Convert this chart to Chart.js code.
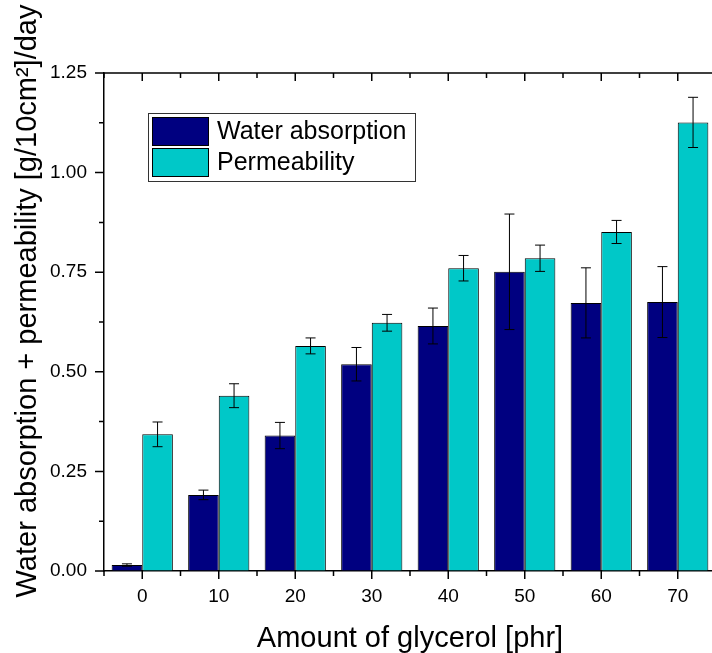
<!DOCTYPE html>
<html>
<head>
<meta charset="utf-8">
<script src="https://cdn.jsdelivr.net/npm/chart.js@4"></script>
<style>
body { margin: 0; overflow: hidden; background: #fff; }
#wrap { position: absolute; left: 0; top: 0; width: 730px; height: 653px; }
</style>
</head>
<body>
<div id="wrap"><canvas id="chart" width="730" height="653"></canvas></div>
<script>
const glycerol = [0, 10, 20, 30, 40, 50, 60, 70];
const waterAbs = [0.015, 0.191, 0.340, 0.519, 0.615, 0.751, 0.673, 0.675];
const waterErr = [0.003, 0.012, 0.033, 0.042, 0.045, 0.145, 0.088, 0.089];
const permeability = [0.343, 0.440, 0.565, 0.623, 0.760, 0.785, 0.851, 1.126];
const permErr = [0.031, 0.030, 0.020, 0.021, 0.032, 0.033, 0.029, 0.063];
const yTicks = [0, 0.25, 0.5, 0.75, 1.0, 1.25];
const seriesNames = ["Water absorption", "Permeability"];
const xTitle = "Amount of glycerol [phr]";
const yTitle = "Water absorption + permeability [g/10cm\u00B2]/day";

const FONT = "Arial, 'Liberation Sans', sans-serif";
const errors = [waterErr, permErr];

// ticks on all sides, error bars, legend box, axis titles
const decor = {
    id: 'decor',
    afterDraw(chart) {
        const ctx = chart.ctx;
        const a = chart.chartArea;
        const x = chart.scales.x, y = chart.scales.y;
        ctx.save();
        ctx.strokeStyle = '#000';
        ctx.lineWidth = 1.5;
        ctx.beginPath();
        ctx.moveTo(a.left, a.top);
        ctx.lineTo(a.right, a.top);
        x.ticks.forEach(t => {
            const px = x.getPixelForValue(t.value);
            const len = t.label !== '' ? 8 : 5;
            ctx.moveTo(px, a.bottom);
            ctx.lineTo(px, a.bottom + len);
            ctx.moveTo(px, a.top);
            ctx.lineTo(px, a.top + len);
        });
        y.ticks.forEach(t => {
            const py = y.getPixelForValue(t.value);
            const len = t.label !== '' ? 9 : 5;
            ctx.moveTo(a.left, py);
            ctx.lineTo(a.left - len, py);
        });
        ctx.stroke();

        // error bars
        ctx.lineWidth = 1;
        ctx.beginPath();
        chart.data.datasets.forEach((ds, di) => {
            const meta = chart.getDatasetMeta(di);
            meta.data.forEach((bar, i) => {
                const v = ds.data[i].y, e = errors[di][i];
                const top = y.getPixelForValue(v + e);
                const bot = y.getPixelForValue(v - e);
                ctx.moveTo(bar.x, top);
                ctx.lineTo(bar.x, bot);
                ctx.moveTo(bar.x - 5, top);
                ctx.lineTo(bar.x + 5, top);
                ctx.moveTo(bar.x - 5, bot);
                ctx.lineTo(bar.x + 5, bot);
            });
        });
        ctx.stroke();

        // legend
        ctx.strokeStyle = '#333';
        ctx.strokeRect(148.5, 113.5, 267, 68);
        ctx.font = '25px ' + FONT;
        ctx.textBaseline = 'middle';
        ctx.textAlign = 'left';
        chart.data.datasets.forEach((ds, di) => {
            const top = 117 + di * 31;
            ctx.fillStyle = ds.backgroundColor;
            ctx.fillRect(152, top, 57, 29);
            ctx.strokeStyle = '#000';
            ctx.strokeRect(152.5, top + 0.5, 56, 28);
            ctx.fillStyle = '#000';
            ctx.fillText(ds.label, 217, top + 15);
        });

        // axis titles
        ctx.font = '29px ' + FONT;
        ctx.textAlign = 'center';
        ctx.textBaseline = 'alphabetic';
        ctx.fillText(xTitle, (a.left + a.right) / 2, 647);
        ctx.translate(36, 301);
        ctx.rotate(-Math.PI / 2);
        ctx.fillText(yTitle, 0, 0);
        ctx.restore();
    }
};

new Chart(document.getElementById('chart'), {
    type: 'bar',
    data: {
        datasets: [
            {
                label: seriesNames[0],
                data: glycerol.map((g, i) => ({x: g, y: waterAbs[i]})),
                backgroundColor: '#000080',
                borderColor: '#000',
                borderWidth: 1
            },
            {
                label: seriesNames[1],
                data: glycerol.map((g, i) => ({x: g, y: permeability[i]})),
                backgroundColor: '#00C8C8',
                borderColor: '#000',
                borderWidth: 1
            }
        ]
    },
    options: {
        responsive: false,
        animation: false,
        // bar ruler uses the 5-unit tick spacing, so a group spans 1.6 of it (8 units)
        categoryPercentage: 1.6,
        barPercentage: 1.0,
        layout: { padding: { left: 0, top: 73, right: 12, bottom: 0 } },
        plugins: { legend: { display: false }, tooltip: { enabled: false } },
        scales: {
            x: {
                type: 'linear',
                min: -5,
                max: 75,
                offset: false,
                afterFit: s => { s.height = 82; },
                grid: { offset: false, drawOnChartArea: false, drawTicks: false },
                border: { display: true, color: '#000', width: 1.5 },
                ticks: {
                    stepSize: 5,
                    autoSkip: false,
                    maxRotation: 0,
                    padding: 14,
                    color: '#000',
                    font: { family: FONT, size: 19 },
                    callback: v => glycerol.includes(v) ? String(v) : ''
                }
            },
            y: {
                min: 0,
                max: 1.25,
                afterFit: s => { s.width = 104; },
                grid: { drawOnChartArea: false, drawTicks: false },
                border: { display: true, color: '#000', width: 1.5 },
                ticks: {
                    stepSize: 0.125,
                    autoSkip: false,
                    padding: 17,
                    color: '#000',
                    font: { family: FONT, size: 19 },
                    callback: v => yTicks.some(t => Math.abs(t - v) < 1e-6) ? v.toFixed(2) : ''
                }
            }
        }
    },
    plugins: [decor]
});
</script>
</body>
</html>
